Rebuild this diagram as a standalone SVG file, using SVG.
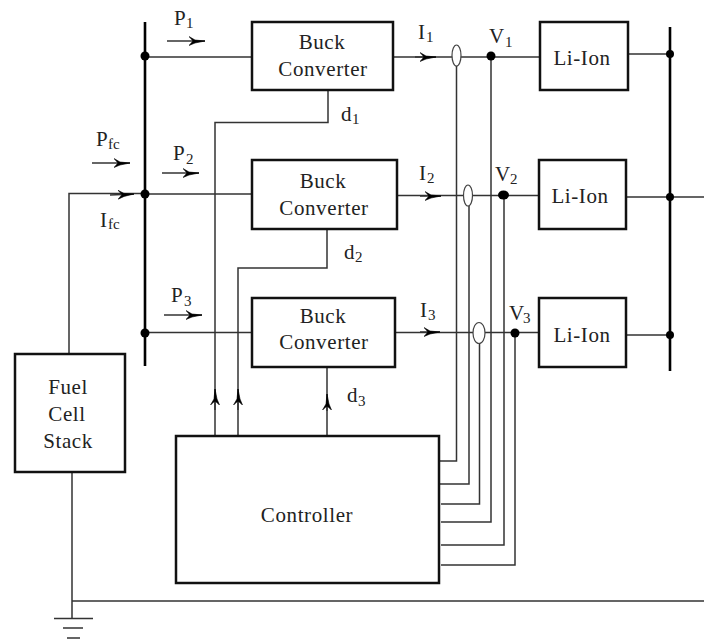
<svg xmlns="http://www.w3.org/2000/svg" width="704" height="640" viewBox="0 0 704 640">
<defs>
<style>
text{font-family:"Liberation Serif","Times New Roman",serif;fill:#222;font-size:21px;letter-spacing:.6px}
.c{text-anchor:middle}
.l{font-size:21px;letter-spacing:0}
.s{font-size:15px;letter-spacing:0}
.box{fill:#fff;stroke:#111;stroke-width:2.5}
.w{fill:none;stroke:#333;stroke-width:1.5}
.b{fill:none;stroke:#000;stroke-width:2.6}
.d{fill:#000}
.e{fill:#fff;stroke:#444;stroke-width:1.2}
</style>
<marker id="a" markerUnits="userSpaceOnUse" markerWidth="18" markerHeight="12" refX="16" refY="6" orient="auto">
<path d="M0,1.500 L6,5 L16,6 L6,8 L0,10.500 L4,6 Z" fill="#000" stroke="#000" stroke-width=".6"/>
</marker>
</defs>
<rect width="704" height="640" fill="#fff"/>
<g id="connectors">
<path class="b" d="M145,22V366M670,27V371"/>
<path class="w" d="M145,57H252M145,194H252M145,332.500H252"/>
<path class="w" d="M69,354V193.500H145"/>
<path class="w" d="M72,472V618M72,601H704M54,618.500H93M63,628H83M67,638H80"/>
<path class="w" d="M393,57H540M397,195.500H539M396,332.500H539"/>
<path class="w" d="M628,54H670M626,197H704M626,335H670"/>
<path class="w" d="M328,90V122.500H215V437M327,229V268H238V436M327,367V436"/>
<path class="w" d="M456.500,66V461H439M469,206V484H439M479.500,344V504H441M491,57V522H441M504,195V545H441M515,333V565H441"/>
<ellipse class="e" cx="456.500" cy="55.500" rx="4.500" ry="10.500"/>
<ellipse class="e" cx="468" cy="195.500" rx="4.500" ry="10.500"/>
<ellipse class="e" cx="479" cy="333" rx="6" ry="10.500"/>
<circle class="d" cx="145" cy="56" r="4.500"/><circle class="d" cx="145" cy="194" r="4.500"/><circle class="d" cx="145" cy="333" r="4.500"/>
<circle class="d" cx="670" cy="54" r="4"/><circle class="d" cx="670" cy="197" r="4"/><circle class="d" cx="670" cy="335" r="4"/>
<circle class="d" cx="491" cy="56" r="4.500"/><ellipse class="d" cx="503.500" cy="195" rx="5.500" ry="4.500"/><circle class="d" cx="515" cy="333" r="4.500"/>
<g class="w">
<path d="M167,41H205" marker-end="url(#a)"/>
<path d="M92,163H130" marker-end="url(#a)"/>
<path d="M162,173H199" marker-end="url(#a)"/>
<path d="M164,315H202" marker-end="url(#a)"/>
<path d="M110,195L134,194" marker-end="url(#a)"/>
<path d="M415,57H436" marker-end="url(#a)"/>
<path d="M420,196H441" marker-end="url(#a)"/>
<path d="M420,332H440" marker-end="url(#a)"/>
<path d="M215,410V389" marker-end="url(#a)"/>
<path d="M238,410V389" marker-end="url(#a)"/>
<path d="M327,411V394" marker-end="url(#a)"/>
</g>
</g>
<g id="buck1"><rect class="box" x="252" y="22" width="141" height="68"/><text class="c" x="322" y="49">Buck</text><text class="c" x="323" y="76">Converter</text></g>
<g id="buck2"><rect class="box" x="252" y="160" width="145" height="69"/><text class="c" x="323" y="188">Buck</text><text class="c" x="324" y="215">Converter</text></g>
<g id="buck3"><rect class="box" x="252" y="298" width="143" height="69"/><text class="c" x="323" y="323">Buck</text><text class="c" x="324" y="349">Converter</text></g>
<g id="liion1"><rect class="box" x="540" y="22" width="88" height="68"/><text class="c" x="582" y="65">Li-Ion</text></g>
<g id="liion2"><rect class="box" x="539" y="160" width="87" height="69"/><text class="c" x="580" y="203">Li-Ion</text></g>
<g id="liion3"><rect class="box" x="539" y="298" width="87" height="69"/><text class="c" x="582" y="342">Li-Ion</text></g>
<g id="fuelcell"><rect class="box" x="15" y="354" width="110" height="118"/><text class="c" x="68" y="394">Fuel</text><text class="c" x="67" y="421">Cell</text><text class="c" x="68" y="448">Stack</text></g>
<g id="controller"><rect class="box" x="176" y="436" width="263" height="147"/><text class="c" x="307" y="522">Controller</text></g>
<g id="labels">
<text class="l" x="174" y="25">P</text><text class="s" x="186" y="28">1</text>
<text class="l" x="96" y="146">P</text><text class="s" x="108" y="149">fc</text>
<text class="l" x="173" y="160">P</text><text class="s" x="186" y="164">2</text>
<text class="l" x="171" y="302">P</text><text class="s" x="184" y="306">3</text>
<text class="l" x="100" y="227">I</text><text class="s" x="108" y="229">fc</text>
<text class="l" x="418" y="39">I</text><text class="s" x="426" y="42">1</text>
<text class="l" x="419" y="180">I</text><text class="s" x="427" y="183">2</text>
<text class="l" x="420" y="317">I</text><text class="s" x="428" y="320">3</text>
<text class="l" x="489" y="43">V</text><text class="s" x="505" y="47">1</text>
<text class="l" x="495" y="181">V</text><text class="s" x="510" y="184">2</text>
<text class="l" x="509" y="320">V</text><text class="s" x="523" y="323">3</text>
<text class="l" x="341" y="121">d</text><text class="s" x="352" y="124">1</text>
<text class="l" x="344" y="259">d</text><text class="s" x="355" y="262">2</text>
<text class="l" x="347" y="402">d</text><text class="s" x="358" y="406">3</text>
</g>
</svg>
